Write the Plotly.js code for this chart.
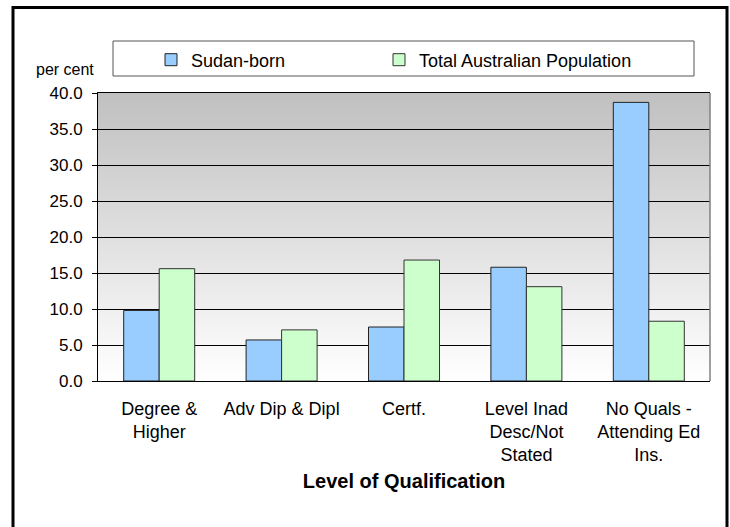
<!DOCTYPE html>
<html>
<head>
<meta charset="utf-8">
<script src="https://cdn.plot.ly/plotly-3.0.1.min.js"></script>
<style>
  body { margin: 0; background: #fff; }
  #chart { width: 730px; height: 527px; }
</style>
</head>
<body>
<div id="chart"></div>
<script>
// qualification levels (x categories)
var categories = [
    "Degree &<br>Higher",
    "Adv Dip & Dipl",
    "Certf.",
    "Level Inad<br>Desc/Not<br>Stated",
    "No Quals -<br>Attending Ed<br>Ins."
];

// per cent values
var sudanBorn = [9.8, 5.7, 7.5, 15.8, 38.7];
var totalAus = [15.6, 7.1, 16.8, 13.1, 8.3];

var yTicks = [0, 5, 10, 15, 20, 25, 30, 35, 40];

// plot area in pixels, used to place the frame and legend box
var L = 98, R = 710, T = 93, B = 381;
function px(x) { return (x - L) / (R - L); }
function py(y) { return (B - y) / (B - T); }

var font = 'Liberation Sans, Arial, sans-serif';

var trace1 = {
    x: categories,
    y: sudanBorn,
    type: 'bar',
    name: 'Sudan-born',
    legend: 'legend',
    marker: { color: '#99ccff', line: { color: '#222', width: 1 } },
    hoverinfo: 'y'
};

var trace2 = {
    x: categories,
    y: totalAus,
    type: 'bar',
    name: 'Total Australian Population',
    legend: 'legend2',
    marker: { color: '#ccffcc', line: { color: '#333', width: 1 } },
    hoverinfo: 'y'
};

// grey-to-white gradient behind the bars
var grad = "<svg xmlns='http://www.w3.org/2000/svg' width='10' height='100' preserveAspectRatio='none'>" +
    "<defs><linearGradient id='g' x1='0' y1='0' x2='0' y2='1'>" +
    "<stop offset='0' stop-color='#c0c0c0'/><stop offset='1' stop-color='#ffffff'/>" +
    "</linearGradient></defs><rect width='10' height='100' fill='url(#g)'/></svg>";

// both legend entries sit on one row inside a drawn box
function legendAt(xText) {
    return {
        orientation: 'h',
        xref: 'container',
        yref: 'container',
        x: (xText - 40) / 730,
        y: 1 - 60 / 527,
        xanchor: 'left',
        yanchor: 'middle',
        font: { size: 18 },
        bgcolor: 'rgba(0,0,0,0)'
    };
}

var layout = {
    width: 730,
    height: 527,
    margin: { l: L, r: 730 - R, t: T, b: 527 - B },
    paper_bgcolor: '#ffffff',
    plot_bgcolor: '#ffffff',
    font: { family: font, size: 17, color: '#000' },
    barmode: 'group',
    bargap: 0.42,
    bargroupgap: 0,
    xaxis: {
        type: 'category',
        showline: true,
        linecolor: '#000',
        linewidth: 1,
        mirror: true,
        ticks: '',
        ticklabelstandoff: 11,
        tickfont: { size: 18 },
        showgrid: false,
        fixedrange: true,
        title: { text: '<b>Level of Qualification</b>', font: { size: 20 }, standoff: 9 }
    },
    yaxis: {
        range: [0, 40],
        tickvals: yTicks,
        tickformat: '.1f',
        showline: true,
        linecolor: '#000',
        linewidth: 1,
        ticks: 'outside',
        ticklen: 5,
        tickcolor: '#000',
        ticklabelstandoff: 6,
        tickfont: { size: 17 },
        showgrid: true,
        gridcolor: '#000',
        gridwidth: 1,
        zeroline: false,
        fixedrange: true
    },
    showlegend: true,
    legend: legendAt(191),
    legend2: legendAt(419),
    images: [{
        source: 'data:image/svg+xml;utf8,' + encodeURIComponent(grad),
        xref: 'paper', yref: 'paper',
        x: 0, y: 1, sizex: 1, sizey: 1,
        sizing: 'stretch',
        xanchor: 'left', yanchor: 'top',
        layer: 'below'
    }],
    shapes: [
        // outer frame
        { type: 'rect', xref: 'paper', yref: 'paper',
          x0: px(13), x1: px(727), y0: py(532), y1: py(7.5),
          line: { color: '#000', width: 3 } },
        // legend box
        { type: 'rect', xref: 'paper', yref: 'paper',
          x0: px(113), x1: px(694), y0: py(76), y1: py(41),
          line: { color: '#555', width: 1 } },
        // right edge of plot area
        { type: 'line', xref: 'paper', yref: 'paper',
          x0: 1, x1: 1, y0: 0, y1: 1,
          line: { color: '#808080', width: 1.5 } }
    ],
    annotations: [{
        text: 'per cent',
        xref: 'paper', yref: 'paper',
        x: px(65), y: py(70),
        xanchor: 'center', yanchor: 'middle',
        showarrow: false,
        font: { size: 16 }
    }]
};

Plotly.newPlot('chart', [trace1, trace2], layout, { displayModeBar: false, staticPlot: true });
</script>
</body>
</html>
